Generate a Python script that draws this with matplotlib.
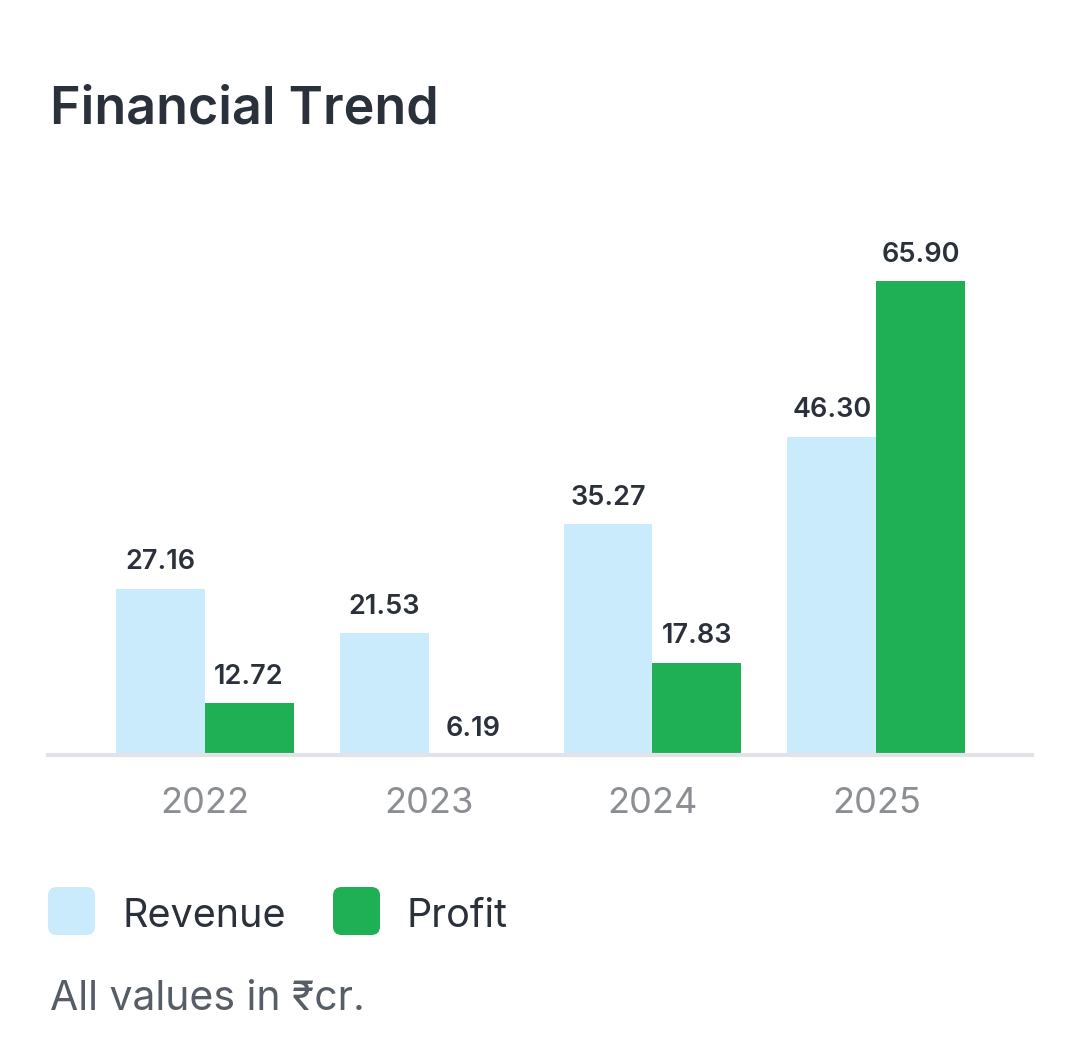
import matplotlib
matplotlib.use("Agg")
import matplotlib.pyplot as plt
from matplotlib.patches import FancyBboxPatch
import numpy as np

years = ["2022", "2023", "2024", "2025"]
revenue = [27.16, 21.53, 35.27, 46.30]
profit = [12.72, 6.19, 17.83, 65.90]
series_names = ["Revenue", "Profit"]
title = "Financial Trend"
footnote = "All values in ₹cr."

REV_C = "#c9ebfc"
PRO_C = "#1faf54"
DARK = "#2b313b"
GRAY = "#8b8e93"
FOOT = "#575d66"
FAM = ["Inter", "DejaVu Sans"]

W, H = 1080, 1060
fig = plt.figure(figsize=(W / 100, H / 100), dpi=100)
fig.patch.set_facecolor("white")

def px(x, y):
    return x / W, 1 - y / H

ax_left, ax_right, ax_top, ax_bottom = 48, 1032, 200, 755
ax = fig.add_axes([ax_left / W, 1 - ax_bottom / H, (ax_right - ax_left) / W, (ax_bottom - ax_top) / H])

x = np.arange(len(years))
bw = 0.397
ymin = min(revenue + profit)
b1 = ax.bar(x - bw / 2, revenue, width=bw, color=REV_C, zorder=2)
b2 = ax.bar(x + bw / 2, profit, width=bw, color=PRO_C, zorder=2)
ax.set_ylim(ymin, ymin + (ax_bottom - ax_top) / 7.935)
ax.set_xlim(-0.70, 3.696)

for bars, vals in ((b1, revenue), (b2, profit)):
    for r, v in zip(bars, vals):
        ax.annotate(f"{v:.2f}", (r.get_x() + r.get_width() / 2, max(v, ymin)),
                    xytext=(0, 14), textcoords="offset points", ha="center", va="baseline",
                    fontsize=19.5, fontweight="semibold", color=DARK, family=FAM,
                    annotation_clip=False)

ax.set_xticks(x)
ax.set_xticklabels(years, fontsize=26, color=GRAY, family=FAM)
ax.tick_params(axis="x", length=0, pad=23)
ax.set_yticks([])
for s in ("top", "left", "right"):
    ax.spines[s].set_visible(False)
ax.spines["bottom"].set_color("#e2e3e8")
ax.spines["bottom"].set_linewidth(3)
ax.spines["bottom"].set_zorder(3)

fig.text(*px(50, 123), title, fontsize=37.5, fontweight="semibold", color=DARK, family=FAM, va="baseline")

# legend
leg_items = [(series_names[0], REV_C, 48, 122), (series_names[1], PRO_C, 333, 407)]
for name, c, bx, tx in leg_items:
    x0, y0 = px(bx, 935)
    p = FancyBboxPatch((x0, y0), 47 / W, 48 / H, boxstyle="round,pad=0,rounding_size=0.008",
                       transform=fig.transFigure, facecolor=c, edgecolor="none")
    fig.patches.append(p)
    fig.text(*px(tx, 927), name, fontsize=28.5, color=DARK, family=FAM, va="baseline")

fig.text(*px(50, 1010), footnote, fontsize=29.5, color=FOOT, family=FAM, va="baseline")

fig.savefig("out.png", dpi=100, facecolor="white")
